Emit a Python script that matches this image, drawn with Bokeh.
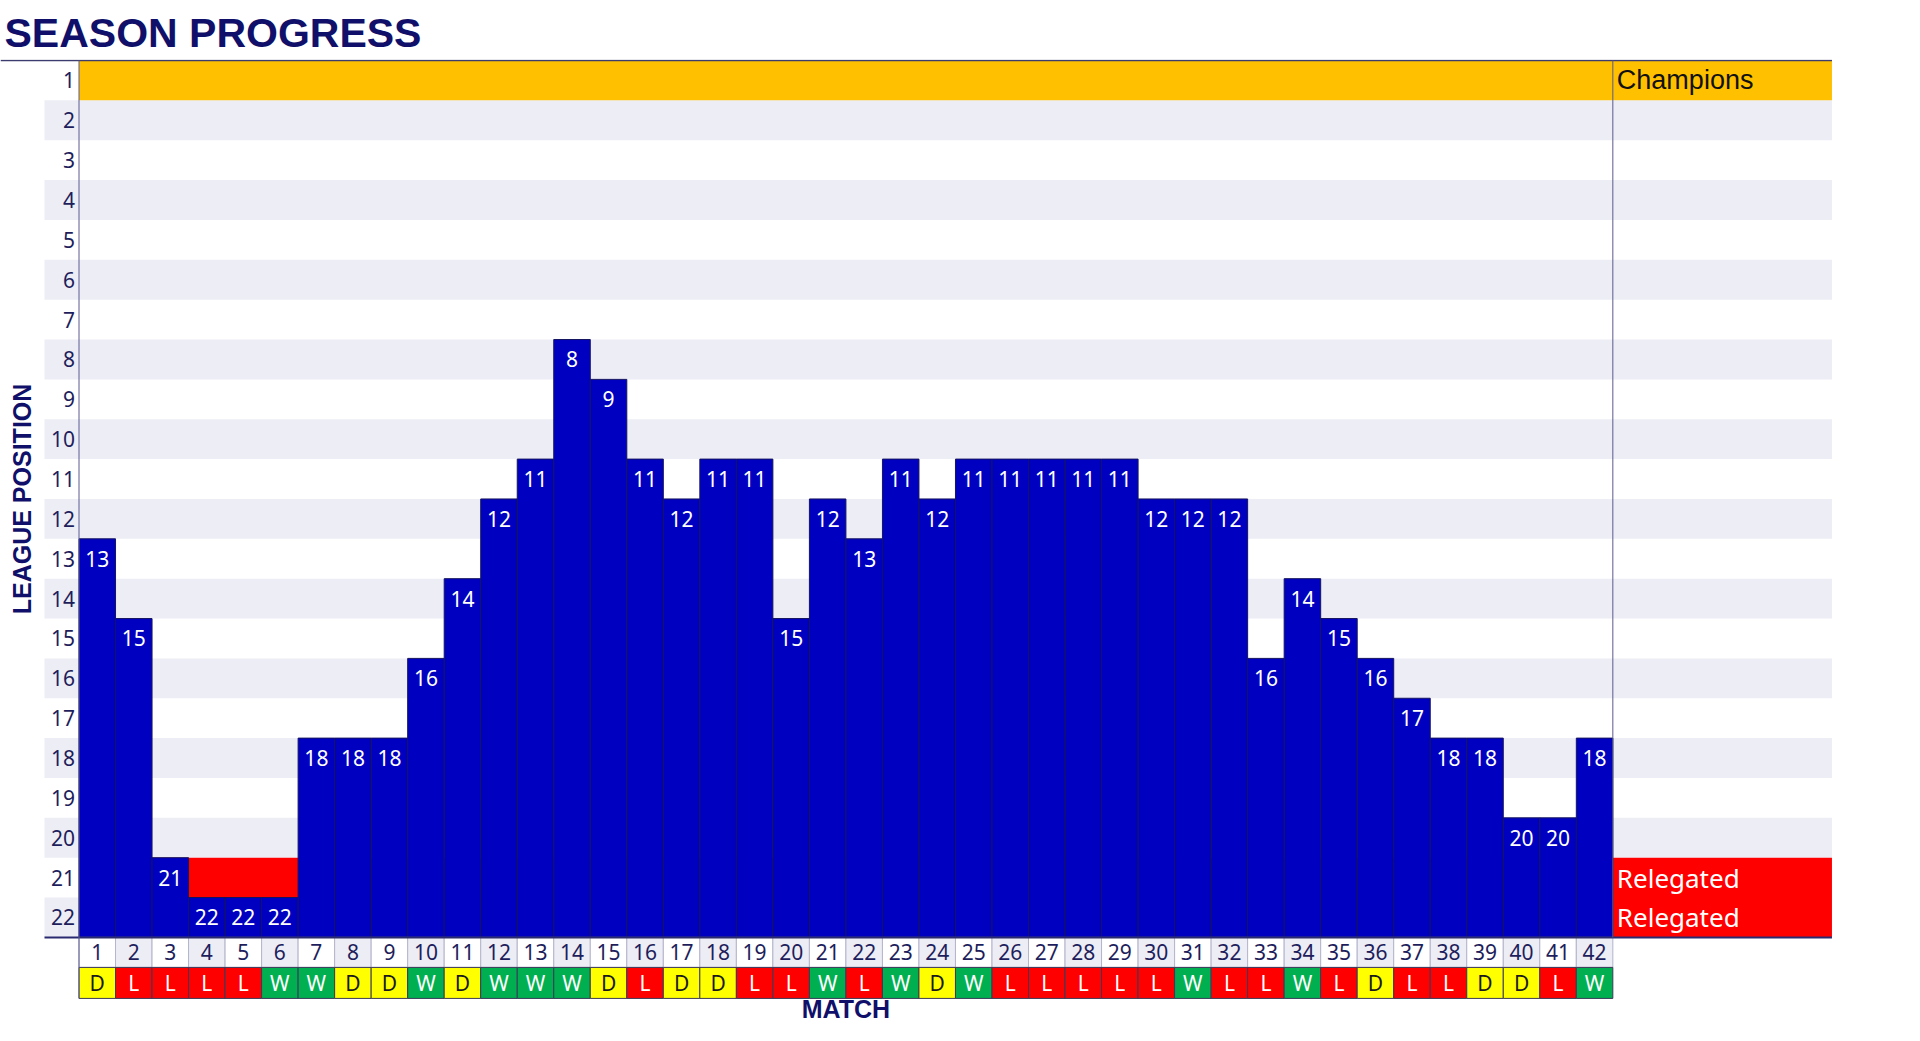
import math
from bokeh.plotting import figure
from bokeh.models import Range1d, ColumnDataSource
from bokeh.core.properties import value
from bokeh.embed import file_html
from bokeh.resources import INLINE

# ---------------- data ----------------
matches = list(range(1, 43))
positions = [13, 15, 21, 22, 22, 22, 18, 18, 18, 16, 14, 12, 11, 8, 9, 11, 12, 11, 11, 15, 12,
             13, 11, 12, 11, 11, 11, 11, 11, 12, 12, 12, 16, 14, 15, 16, 17, 18, 18, 20, 20, 18]
results = ["D", "L", "L", "L", "L", "W", "W", "D", "D", "W", "D", "W", "W", "W", "D", "L", "D", "D",
           "L", "L", "W", "L", "W", "D", "W", "L", "L", "L", "L", "L", "W", "L", "L", "W", "L", "D",
           "L", "L", "D", "D", "L", "W"]
league_positions = list(range(1, 23))
champion_rows = [1]
relegation_rows = [21, 22]
zone_text = {1: "Champions", 21: "Relegated", 22: "Relegated"}
title_text = "SEASON PROGRESS"
y_title = "LEAGUE POSITION"
x_title = "MATCH"

# ---------------- style ----------------
NAVY = "#10106A"
TICK = "#1E1E5C"
BLUE = "#0000C0"
BAND = "#EDEDF6"
GOLD = "#FFC000"
RED = "#FF0000"
GREEN = "#00B050"
YELLOW = "#FFFF00"
res_fill = {"W": GREEN, "L": RED, "D": YELLOW}
res_text = {"W": "white", "L": "white", "D": "#1A1A1A"}

W, H = 1904, 1025
TOP = 59
COLW = 36.52                       # px per match column
ROWH = 39.86                       # px per league row
n = len(matches)
XS = 0.5 - 78.5 / COLW             # frame left
XE = XS + W / COLW                 # frame right
XB = 0.5 - 34.5 / COLW             # left end of row bands
XR = n + 0.5 + 6.0                 # right end of zone-label area
ROW_BOTTOM = len(league_positions) + 0.5
H_NUM = 30 / ROWH
H_RES = 31 / ROWH
Y_RES_BOTTOM = ROW_BOTTOM + H_NUM + H_RES
YT = 0.5 - 1 / ROWH
YB = YT + (H - TOP) / ROWH

p = figure(width=W, height=H, output_backend="svg", toolbar_location=None,
           x_range=Range1d(XS, XE), y_range=Range1d(YB, YT),
           min_border_left=0, min_border_right=0, min_border_top=TOP, min_border_bottom=0,
           title=title_text)
p.outline_line_color = None
p.grid.visible = False
p.xaxis.visible = False
p.yaxis.visible = False
p.background_fill_color = "white"
p.border_fill_color = "white"

p.title.text_font = "Liberation Sans"
p.title.text_font_size = "41px"
p.title.text_font_style = "bold"
p.title.text_color = NAVY
p.title.offset = 4
p.title.standoff = 7

# ---------------- row bands ----------------
bl, br, bt, bb, bc = [], [], [], [], []
for r in league_positions:
    if r % 2 == 0:
        bl.append(XB); br.append(XR); bt.append(r - 0.5); bb.append(r + 0.5); bc.append(BAND)
for r in champion_rows:
    bl.append(0.5); br.append(XR); bt.append(r - 0.5); bb.append(r + 0.5); bc.append(GOLD)
# relegation zone as one continuous block
bl.append(0.5); br.append(XR); bt.append(min(relegation_rows) - 0.5)
bb.append(max(relegation_rows) + 0.5); bc.append(RED)
p.quad(left=bl, right=br, top=bt, bottom=bb, fill_color=bc, line_color=None)

# ---------------- y tick labels ----------------
p.text(x=[0.5 - 4 / COLW] * len(league_positions), y=league_positions,
       text=[str(r) for r in league_positions], text_font=value("Noto Sans"),
       text_font_size="21px", text_color=TICK, text_align="right", text_baseline="middle")

# ---------------- bars ----------------
bars = ColumnDataSource(dict(
    x=matches,
    top=[pos - 0.5 for pos in positions],
    y=positions,
    lab=[str(pos) for pos in positions],
))
p.vbar(x="x", top="top", bottom=ROW_BOTTOM, width=1, source=bars,
       fill_color=BLUE, line_color="#141460", line_width=1)
p.text(x="x", y="y", text="lab", source=bars, text_font=value("Noto Sans"),
       text_font_size="21px", text_color="white", text_align="center", text_baseline="middle")

# ---------------- match number row ----------------
num = ColumnDataSource(dict(
    x=matches,
    lab=[str(m) for m in matches],
    fill=["white" if m % 2 == 1 else BAND for m in matches],
))
p.rect(x="x", y=ROW_BOTTOM + H_NUM / 2, width=1, height=H_NUM, source=num,
       fill_color="fill", line_color="#B4B4CC", line_width=1)
p.text(x="x", y=ROW_BOTTOM + H_NUM / 2, text="lab", source=num, text_font=value("Noto Sans"),
       text_font_size="21px", text_color=TICK, text_align="center", text_baseline="middle")

# ---------------- result row ----------------
res = ColumnDataSource(dict(
    x=matches,
    lab=results,
    fill=[res_fill[r] for r in results],
    tc=[res_text[r] for r in results],
))
yres = ROW_BOTTOM + H_NUM + H_RES / 2
p.rect(x="x", y=yres, width=1, height=H_RES, source=res,
       fill_color="fill", line_color="#3A3A5A", line_width=1)
p.text(x="x", y=yres, text="lab", source=res, text_font=value("Noto Sans"),
       text_font_size="21px", text_color="tc", text_align="center", text_baseline="middle")

# ---------------- zone labels ----------------
xz = n + 0.5 + 4 / COLW
p.text(x=[xz], y=[champion_rows[0]], text=[zone_text[champion_rows[0]]],
       text_font=value("Liberation Sans"), text_font_size="27px", text_color="#111111",
       text_align="left", text_baseline="middle")
p.text(x=[xz] * len(relegation_rows), y=relegation_rows,
       text=[zone_text[r] for r in relegation_rows],
       text_font=value("Noto Sans"), text_font_size="26px", text_color="white",
       text_align="left", text_baseline="middle")

# ---------------- axis titles ----------------
p.text(x=[0.5 - 57.5 / COLW], y=[(0.5 + ROW_BOTTOM) / 2], text=[y_title], angle=math.pi / 2,
       text_font=value("Liberation Sans"), text_font_size="25px", text_font_style="bold",
       text_color=NAVY, text_align="center", text_baseline="middle")
p.text(x=[(0.5 + n + 0.5) / 2], y=[Y_RES_BOTTOM + 11 / ROWH], text=[x_title],
       text_font=value("Liberation Sans"), text_font_size="25px", text_font_style="bold",
       text_color=NAVY, text_align="center", text_baseline="middle")

# ---------------- frame lines ----------------
p.segment(x0=[XS, XB, 0.5, n + 0.5], y0=[0.5, ROW_BOTTOM, 0.5, 0.5],
          x1=[XR, XR, 0.5, n + 0.5], y1=[0.5, ROW_BOTTOM, Y_RES_BOTTOM, ROW_BOTTOM],
          line_color=["#3C3C6E", "#2A2A70", "#5A5A90", "#5A5A90"], line_width=[1.5, 2, 1, 1])

open("out.html", "w").write(file_html(p, INLINE))
